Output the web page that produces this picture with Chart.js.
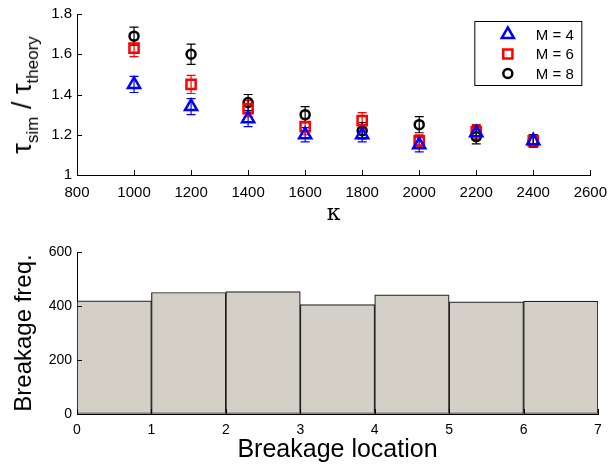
<!DOCTYPE html>
<html lang="en">
<head>
    <meta charset="UTF-8">
    <title>Breakage</title>
    <script src="https://cdn.jsdelivr.net/npm/chart.js"></script>
    <style>
        body { margin: 0; width: 616px; height: 464px; background: #fff; position: relative; overflow: hidden;
               font-family: "Liberation Sans", Arial, sans-serif; }
        #topChart { position: absolute; left: 0; top: 0; }
        #bottomChart { position: absolute; left: 0; top: 230px; }
        #yTitle { position: absolute; left: 25px; top: 95px; transform: translate(-50%, -50%) rotate(-90deg);
                  white-space: nowrap; color: #000; font-size: 27px; line-height: 1; }
        #yTitle sub { font-size: 17px; vertical-align: -7px; }
    </style>
</head>
<body>

<canvas id="topChart" width="616" height="230"></canvas>
<canvas id="bottomChart" width="616" height="234"></canvas>
<div id="yTitle">τ<sub>sim</sub> / τ<sub>theory</sub></div>

<script>
    // top panel: tau_sim / tau_theory against kappa
    const kappa = [1000, 1200, 1400, 1600, 1800, 2000, 2200, 2400];
    const ratioM4 = [1.45, 1.34, 1.28, 1.20, 1.20, 1.15, 1.21, 1.17];
    const errM4   = [0.04, 0.04, 0.04, 0.035, 0.035, 0.035, 0.035, 0.03];
    const ratioM6 = [1.63, 1.45, 1.33, 1.24, 1.27, 1.17, 1.215, 1.17];
    const errM6   = [0.042, 0.045, 0.04, 0.04, 0.04, 0.03, 0.035, 0.03];
    const ratioM8 = [1.69, 1.60, 1.36, 1.30, 1.22, 1.25, 1.19, 1.17];
    const errM8   = [0.045, 0.05, 0.04, 0.04, 0.04, 0.04, 0.035, 0.03];
    const seriesLabels = ['M = 4', 'M = 6', 'M = 8'];
    const yTicksTop = [1, 1.2, 1.4, 1.6, 1.8];

    // bottom panel: histogram of breakage location
    const binStart = [0, 1, 2, 3, 4, 5, 6];
    const breakCount = [419, 450, 453, 405, 441, 415, 418];

    const tickFont = { family: '"Liberation Sans", Arial, sans-serif', size: 15 };

    function pts(ys, errs) {
        return kappa.map((k, i) => ({ x: k, y: ys[i], err: errs[i] }));
    }

    // short tick marks pointing into the plot, like matlab
    const inwardTicks = {
        id: 'inwardTicks',
        afterDraw(chart) {
            const ctx = chart.ctx;
            const xs = chart.scales.x, ys = chart.scales.y;
            ctx.save();
            ctx.strokeStyle = '#000';
            ctx.lineWidth = 1;
            ctx.beginPath();
            xs.ticks.forEach(t => {
                const px = Math.round(xs.getPixelForValue(t.value)) + 0.5;
                ctx.moveTo(px, ys.bottom);
                ctx.lineTo(px, ys.bottom - 5);
            });
            ys.ticks.forEach(t => {
                const py = Math.round(ys.getPixelForValue(t.value)) + 0.5;
                ctx.moveTo(xs.left, py);
                ctx.lineTo(xs.left + 5, py);
            });
            ctx.stroke();
            ctx.restore();
        }
    };

    const errorBars = {
        id: 'errorBars',
        beforeDatasetsDraw(chart) {
            const ctx = chart.ctx;
            const xs = chart.scales.x, ys = chart.scales.y;
            ctx.save();
            chart.data.datasets.forEach(ds => {
                ctx.strokeStyle = ds.borderColor;
                ctx.lineWidth = 1.2;
                ds.data.forEach(p => {
                    const px = xs.getPixelForValue(p.x);
                    const y1 = ys.getPixelForValue(p.y - p.err);
                    const y2 = ys.getPixelForValue(p.y + p.err);
                    ctx.beginPath();
                    ctx.moveTo(px, y1); ctx.lineTo(px, y2);
                    ctx.moveTo(px - 4.5, y1); ctx.lineTo(px + 4.5, y1);
                    ctx.moveTo(px - 4.5, y2); ctx.lineTo(px + 4.5, y2);
                    ctx.stroke();
                });
            });
            ctx.restore();
        }
    };

    function drawMarker(ctx, style, r, x, y) {
        ctx.beginPath();
        if (style === 'triangle') {
            ctx.moveTo(x, y - r);
            ctx.lineTo(x + r * Math.sqrt(3) / 2, y + r / 2);
            ctx.lineTo(x - r * Math.sqrt(3) / 2, y + r / 2);
            ctx.closePath();
        } else if (style === 'rect') {
            const s = r * Math.SQRT1_2;
            ctx.rect(x - s, y - s, 2 * s, 2 * s);
        } else {
            ctx.arc(x, y, r, 0, Math.PI * 2);
        }
        ctx.stroke();
    }

    const boxLegend = {
        id: 'boxLegend',
        afterDraw(chart) {
            const ctx = chart.ctx;
            const area = chart.chartArea;
            const left = area.right - 115.5, top = area.top + 7.5, w = 107, h = 64;
            ctx.save();
            ctx.fillStyle = '#fff';
            ctx.fillRect(left, top, w, h);
            ctx.strokeStyle = '#000';
            ctx.lineWidth = 1;
            ctx.strokeRect(left, top, w, h);
            chart.data.datasets.forEach((ds, i) => {
                const cy = top + 13 + i * 19.5;
                ctx.strokeStyle = ds.borderColor;
                ctx.lineWidth = ds.pointBorderWidth;
                drawMarker(ctx, ds.pointStyle, ds.pointRadius, left + 33, cy);
                ctx.fillStyle = '#000';
                ctx.font = '15px "Liberation Sans", Arial, sans-serif';
                ctx.textBaseline = 'middle';
                ctx.textAlign = 'left';
                ctx.fillText(ds.label, left + 61, cy + 1);
            });
            ctx.restore();
        }
    };

    const topChart = new Chart(document.getElementById('topChart'), {
        type: 'scatter',
        data: {
            datasets: [
                { label: seriesLabels[0], data: pts(ratioM4, errM4), pointStyle: 'triangle', pointRadius: 7,
                  pointBorderWidth: 2.5, borderColor: '#0000ff', backgroundColor: 'rgba(0,0,0,0)' },
                { label: seriesLabels[1], data: pts(ratioM6, errM6), pointStyle: 'rect', pointRadius: 6.5,
                  pointBorderWidth: 2.5, borderColor: '#ff0000', backgroundColor: 'rgba(0,0,0,0)' },
                { label: seriesLabels[2], data: pts(ratioM8, errM8), pointStyle: 'circle', pointRadius: 4.5,
                  pointBorderWidth: 2.5, borderColor: '#000000', backgroundColor: 'rgba(0,0,0,0)' }
            ]
        },
        options: {
            responsive: false,
            animation: false,
            layout: { padding: { left: 0, right: 18, top: 13, bottom: 0 } },
            plugins: { legend: { display: false }, tooltip: { enabled: false } },
            scales: {
                x: {
                    type: 'linear', min: 800, max: 2600,
                    grid: { drawOnChartArea: false, drawTicks: false },
                    border: { color: '#000', width: 1 },
                    ticks: { stepSize: 200, color: '#000', font: tickFont, padding: 9, maxRotation: 0,
                             callback: v => String(v) },
                    title: { display: true, text: 'κ', color: '#000', padding: { top: 0, bottom: 3 },
                             font: { family: '"DejaVu Serif", serif', size: 22 } },
                    afterFit(scale) { scale.height = 55; }
                },
                y: {
                    min: 1, max: 1.8,
                    grid: { drawOnChartArea: false, drawTicks: false },
                    border: { color: '#000', width: 1 },
                    ticks: { stepSize: 0.2, color: '#000', font: tickFont, padding: 5,
                             callback: v => yTicksTop.includes(Math.round(v * 10) / 10) ? String(Math.round(v * 10) / 10) : '' },
                    afterFit(scale) { scale.width = 77; }
                }
            }
        },
        plugins: [errorBars, inwardTicks, boxLegend]
    });

    const bottomChart = new Chart(document.getElementById('bottomChart'), {
        type: 'bar',
        data: {
            datasets: [{
                data: binStart.map((b, i) => ({ x: b + 0.5, y: breakCount[i] })),
                backgroundColor: '#d4d0c8',
                borderColor: '#222',
                borderWidth: 1.2,
                borderSkipped: false,
                barPercentage: 1,
                categoryPercentage: 1
            }]
        },
        options: {
            responsive: false,
            animation: false,
            layout: { padding: { left: 0, right: 18, top: 22, bottom: 0 } },
            plugins: { legend: { display: false }, tooltip: { enabled: false } },
            scales: {
                x: {
                    type: 'linear', min: 0, max: 7, offset: false,
                    grid: { drawOnChartArea: false, drawTicks: false, offset: false },
                    border: { color: '#000', width: 1 },
                    ticks: { stepSize: 1, color: '#000', font: { family: tickFont.family, size: 14 }, padding: 8 },
                    title: { display: true, text: 'Breakage location', color: '#000', padding: { top: 0, bottom: -1 },
                             font: { family: tickFont.family, size: 25 } },
                    afterFit(scale) { scale.height = 50; }
                },
                y: {
                    min: 0, max: 600,
                    grid: { drawOnChartArea: false, drawTicks: false },
                    border: { color: '#000', width: 1 },
                    ticks: { stepSize: 200, color: '#000', font: { family: tickFont.family, size: 14 }, padding: 5 },
                    title: { display: true, text: 'Breakage freq.', color: '#000', padding: { top: 10, bottom: 0 },
                             font: { family: tickFont.family, size: 24 } },
                    afterFit(scale) { scale.width = 77; }
                }
            }
        },
        plugins: [inwardTicks]
    });
</script>
</body>
</html>
